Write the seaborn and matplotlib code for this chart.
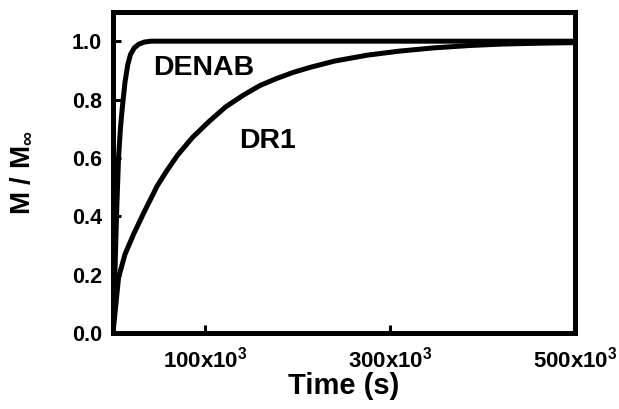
import matplotlib
matplotlib.use("Agg")
import matplotlib.pyplot as plt
import seaborn as sns
import pandas as pd

# Normalised uptake M/M_inf versus time for the two dyes
dr1_time = [0, 6000, 13000, 22500, 33000, 48000, 58000, 70000, 86000, 104000,
            122000, 141000, 159000, 177000, 195000, 213000, 240000, 275000,
            310000, 347000, 385000, 420000, 460000, 500000]
dr1_frac = [0.0, 0.19, 0.27, 0.34, 0.41, 0.505, 0.555, 0.61, 0.67, 0.725,
            0.775, 0.815, 0.848, 0.872, 0.893, 0.91, 0.932, 0.952,
            0.966, 0.977, 0.985, 0.99, 0.993, 0.995]

denab_time = [0, 2000, 4000, 6000, 8000, 10000, 13000, 16000, 19000, 23000,
              28000, 34000, 41000, 100000, 300000, 500000]
denab_frac = [0.0, 0.2, 0.42, 0.6, 0.7, 0.77, 0.86, 0.92, 0.955, 0.977,
              0.99, 0.997, 1.0, 1.0, 1.0, 1.0]

x_ticks = [100000, 300000, 500000]
x_tick_labels = [r"100x10$^{3}$", r"300x10$^{3}$", r"500x10$^{3}$"]
y_ticks = [0.0, 0.2, 0.4, 0.6, 0.8, 1.0]
y_tick_labels = ["0.0", "0.2", "0.4", "0.6", "0.8", "1.0"]

dr1 = pd.DataFrame({"t": dr1_time, "m": dr1_frac})
denab = pd.DataFrame({"t": denab_time, "m": denab_frac})

sns.set_style("ticks")
plt.rcParams["font.family"] = ["Liberation Sans", "DejaVu Sans"]
plt.rcParams["font.weight"] = "bold"
plt.rcParams["text.color"] = "black"
plt.rcParams["axes.labelcolor"] = "black"
plt.rcParams["xtick.color"] = "black"
plt.rcParams["ytick.color"] = "black"
plt.rcParams["mathtext.fontset"] = "custom"
plt.rcParams["mathtext.rm"] = "Liberation Sans:bold"
plt.rcParams["mathtext.bf"] = "Liberation Sans:bold"
plt.rcParams["mathtext.it"] = "Liberation Sans:bold"
plt.rcParams["mathtext.default"] = "bf"

fig = plt.figure(figsize=(6.19, 4.09), dpi=100)
ax = fig.add_axes([113 / 619, (409 - 333) / 409, (575 - 113) / 619, (333 - 12) / 409])

lw = 3.6
sns.lineplot(data=denab, x="t", y="m", ax=ax, color="black", lw=lw,
             estimator=None, sort=False)
sns.lineplot(data=dr1, x="t", y="m", ax=ax, color="black", lw=lw,
             estimator=None, sort=False)

ax.set_xlim(0, 500000)
ax.set_ylim(0, 1.1)

ax.set_xticks(x_ticks)
ax.set_xticklabels(x_tick_labels, fontsize=16, fontweight="bold", color="black")
ax.set_yticks(y_ticks)
ax.set_yticklabels(y_tick_labels, fontsize=15.5, fontweight="bold", color="black")
ax.tick_params(axis="both", direction="in", length=6, width=2.2, colors="black")
ax.tick_params(axis="x", pad=10)
ax.tick_params(axis="y", pad=8)

for side in ["left", "right", "top", "bottom"]:
    ax.spines[side].set_visible(True)
    ax.spines[side].set_linewidth(3.6)
    ax.spines[side].set_color("black")

ax.set_xlabel("Time (s)", fontsize=21, fontweight="bold", color="black")
ax.set_ylabel(r"M / M$_{\infty}$", fontsize=20, fontweight="bold", color="black")
ax.xaxis.set_label_coords(0.5, -0.165)
ax.xaxis.label.set_verticalalignment("center")
ax.yaxis.set_label_coords(-0.197, 0.5)
ax.yaxis.label.set_verticalalignment("center")

ax.text(98000, 0.907, "DENAB", fontsize=20.5, fontweight="bold",
        ha="center", va="center", color="black")
ax.text(167000, 0.657, "DR1", fontsize=20.5, fontweight="bold",
        ha="center", va="center", color="black")

fig.savefig("out.png", dpi=100)
